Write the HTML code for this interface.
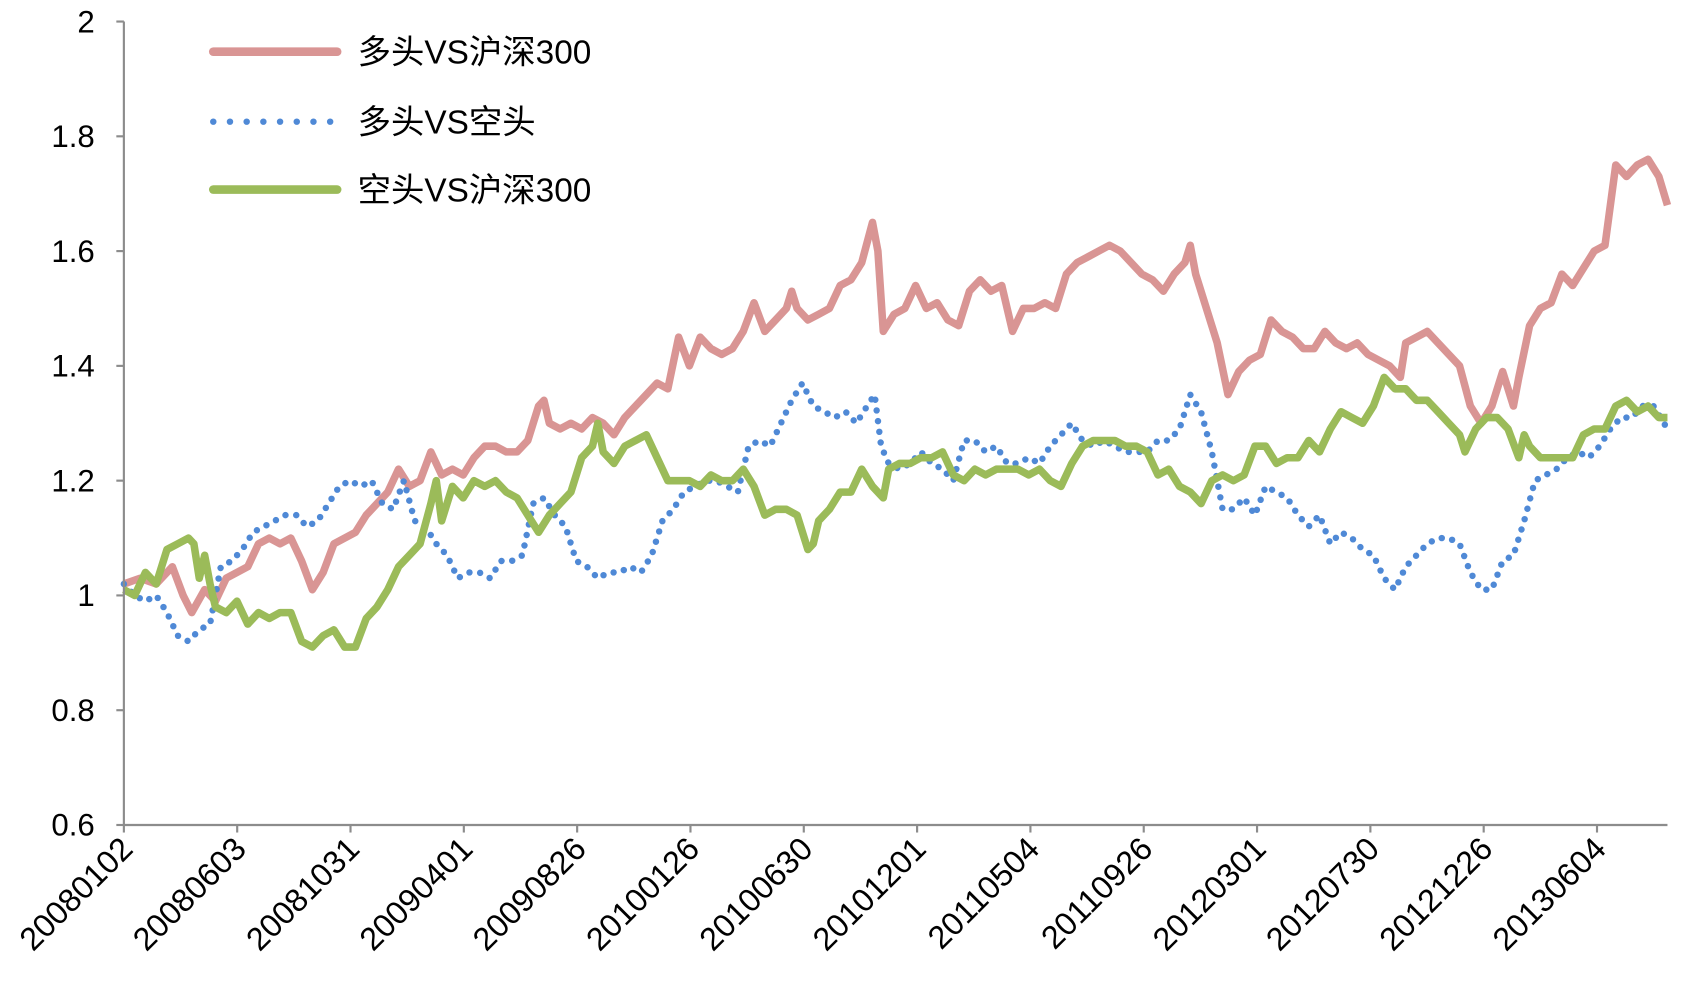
<!DOCTYPE html>
<html><head><meta charset="utf-8"><style>
html,body{margin:0;padding:0;background:#fff}
svg{display:block}
text{font-family:"Liberation Sans","Noto Sans CJK SC",sans-serif;fill:#000}
</style></head><body>
<svg id="chart" width="1689" height="993" viewBox="0 0 1568 922" preserveAspectRatio="none" xmlns="http://www.w3.org/2000/svg">
<g id="series"></g>
<g id="axes"></g>
<g id="legend"></g>
</svg>
<script>
const yTicks = [0.6, 0.8, 1, 1.2, 1.4, 1.6, 1.8, 2];
const yTickLabels = ["0.6","0.8","1","1.2","1.4","1.6","1.8","2"];
const xTickLabels = ["20080102","20080603","20081031","20090401","20090826","20100126","20100630","20101201","20110504","20110926","20120301","20120730","20121226","20130604"];
const redT = [0,15,30,45,55,63,75,85,95,105,115,125,135,145,155,165,175,185,195,205,215,225,235,245,255,265,275,285,295,305,315,325,335,345,355,365,375,385,390,395,405,415,425,435,445,455,465,475,485,495,505,515,525,535,545,555,565,575,585,595,605,615,620,625,635,645,655,665,675,685,695,700,705,715,725,735,745,755,765,775,785,795,805,815,825,835,845,855,865,875,885,895,905,915,925,935,945,955,965,975,985,990,995,1005,1015,1025,1035,1045,1055,1065,1075,1085,1095,1105,1115,1125,1135,1145,1155,1165,1175,1185,1190,1200,1210,1220,1230,1240,1250,1260,1270,1280,1290,1295,1305,1315,1325,1335,1345,1355,1365,1375,1385,1395,1405,1415,1425,1433];
const redV = [1.02,1.03,1.02,1.05,1.0,0.97,1.01,0.99,1.03,1.04,1.05,1.09,1.10,1.09,1.10,1.06,1.01,1.04,1.09,1.10,1.11,1.14,1.16,1.18,1.22,1.19,1.20,1.25,1.21,1.22,1.21,1.24,1.26,1.26,1.25,1.25,1.27,1.33,1.34,1.30,1.29,1.30,1.29,1.31,1.30,1.28,1.31,1.33,1.35,1.37,1.36,1.45,1.40,1.45,1.43,1.42,1.43,1.46,1.51,1.46,1.48,1.50,1.53,1.50,1.48,1.49,1.50,1.54,1.55,1.58,1.65,1.60,1.46,1.49,1.50,1.54,1.50,1.51,1.48,1.47,1.53,1.55,1.53,1.54,1.46,1.50,1.50,1.51,1.50,1.56,1.58,1.59,1.60,1.61,1.60,1.58,1.56,1.55,1.53,1.56,1.58,1.61,1.56,1.50,1.44,1.35,1.39,1.41,1.42,1.48,1.46,1.45,1.43,1.43,1.46,1.44,1.43,1.44,1.42,1.41,1.40,1.38,1.44,1.45,1.46,1.44,1.42,1.40,1.33,1.30,1.33,1.39,1.33,1.38,1.47,1.50,1.51,1.56,1.54,1.57,1.60,1.61,1.75,1.73,1.75,1.76,1.73,1.68];
const greenT = [0,10,20,30,40,50,60,65,70,75,80,85,95,105,115,125,135,145,155,165,175,185,195,205,215,225,235,245,255,265,275,285,290,295,305,315,325,335,345,355,365,375,385,395,405,415,425,435,440,445,455,465,475,485,495,505,515,525,535,545,555,565,575,585,595,605,615,625,635,640,645,655,665,675,685,695,705,710,720,730,740,750,760,770,780,790,800,810,820,830,840,850,860,870,880,890,900,910,920,930,940,950,960,970,980,990,1000,1010,1020,1030,1040,1050,1060,1070,1080,1090,1100,1110,1120,1130,1140,1150,1160,1170,1180,1190,1200,1210,1220,1230,1240,1245,1255,1265,1275,1285,1295,1300,1305,1315,1325,1335,1345,1355,1365,1375,1385,1395,1405,1415,1425,1433];
const greenV = [1.01,1.00,1.04,1.02,1.08,1.09,1.10,1.09,1.03,1.07,1.02,0.98,0.97,0.99,0.95,0.97,0.96,0.97,0.97,0.92,0.91,0.93,0.94,0.91,0.91,0.96,0.98,1.01,1.05,1.07,1.09,1.16,1.20,1.13,1.19,1.17,1.20,1.19,1.20,1.18,1.17,1.14,1.11,1.14,1.16,1.18,1.24,1.26,1.30,1.25,1.23,1.26,1.27,1.28,1.24,1.20,1.20,1.20,1.19,1.21,1.20,1.20,1.22,1.19,1.14,1.15,1.15,1.14,1.08,1.09,1.13,1.15,1.18,1.18,1.22,1.19,1.17,1.22,1.23,1.23,1.24,1.24,1.25,1.21,1.20,1.22,1.21,1.22,1.22,1.22,1.21,1.22,1.20,1.19,1.23,1.26,1.27,1.27,1.27,1.26,1.26,1.25,1.21,1.22,1.19,1.18,1.16,1.20,1.21,1.20,1.21,1.26,1.26,1.23,1.24,1.24,1.27,1.25,1.29,1.32,1.31,1.30,1.33,1.38,1.36,1.36,1.34,1.34,1.32,1.30,1.28,1.25,1.29,1.31,1.31,1.29,1.24,1.28,1.26,1.24,1.24,1.24,1.24,1.28,1.29,1.29,1.33,1.34,1.32,1.33,1.31,1.31];
const blueT = [0,10,20,30,40,50,60,70,80,90,100,110,120,130,140,150,160,170,180,190,200,210,220,230,240,250,260,270,280,290,300,310,320,330,340,350,360,370,380,390,400,410,420,430,440,450,460,470,480,490,500,510,520,530,540,550,560,570,580,590,600,610,620,630,640,650,660,670,680,690,697,703,710,720,730,740,750,760,770,780,790,800,810,820,830,840,850,860,870,880,890,900,910,920,930,940,950,960,970,980,990,1000,1010,1020,1030,1040,1050,1060,1070,1080,1090,1100,1110,1120,1130,1140,1150,1160,1170,1180,1190,1200,1210,1220,1230,1240,1250,1260,1270,1280,1290,1300,1310,1320,1330,1340,1350,1360,1370,1380,1390,1400,1410,1420,1433];
const blueV = [1.02,1.00,0.99,1.00,0.97,0.93,0.92,0.94,0.95,1.05,1.06,1.08,1.11,1.12,1.13,1.14,1.14,1.12,1.13,1.16,1.19,1.20,1.19,1.20,1.16,1.15,1.20,1.13,1.12,1.09,1.07,1.03,1.04,1.04,1.03,1.06,1.06,1.07,1.16,1.17,1.14,1.12,1.06,1.05,1.03,1.04,1.04,1.05,1.04,1.07,1.13,1.15,1.18,1.19,1.20,1.20,1.19,1.18,1.26,1.27,1.26,1.30,1.34,1.37,1.33,1.32,1.31,1.32,1.30,1.33,1.35,1.26,1.23,1.22,1.23,1.25,1.23,1.22,1.20,1.27,1.27,1.25,1.26,1.23,1.23,1.24,1.23,1.26,1.28,1.30,1.27,1.26,1.27,1.26,1.25,1.25,1.25,1.27,1.27,1.29,1.35,1.32,1.25,1.15,1.15,1.17,1.14,1.19,1.18,1.17,1.14,1.12,1.14,1.09,1.11,1.10,1.08,1.07,1.03,1.01,1.05,1.07,1.09,1.10,1.10,1.09,1.04,1.01,1.01,1.06,1.07,1.13,1.20,1.21,1.22,1.24,1.25,1.24,1.26,1.29,1.31,1.31,1.33,1.33,1.29];

const NS = "http://www.w3.org/2000/svg";
const X0 = 115, X1 = 1548, Y0 = 766, Y1 = 20, TMAX = 1433;
function xs(t){ return X0 + (t / TMAX) * (X1 - X0); }
function ys(v){ return Y0 - (v - 0.6) / 1.4 * (Y0 - Y1); }
function mk(tag, attrs, parent){ const e = document.createElementNS(NS, tag); for (const k in attrs) e.setAttribute(k, attrs[k]); parent.appendChild(e); return e; }

const axes = document.getElementById('axes');
const series = document.getElementById('series');
const legend = document.getElementById('legend');

const yAxis = mk('line', {x1:X0, y1:Y1, x2:X0, y2:Y0, stroke:'#8c8c8c', 'stroke-width':2}, axes);


const xAxis = mk('line', {x1:X0, y1:Y0, x2:X1, y2:Y0, stroke:'#8c8c8c', 'stroke-width':2}, axes);



yTicks.forEach((v, i) => {
  const y = ys(v);
  mk('line', {x1:X0-7, y1:y, x2:X0, y2:y, stroke:'#8c8c8c', 'stroke-width':2}, axes);
  const t = mk('text', {x:88, y:y+10, 'text-anchor':'end', 'font-size':29}, axes);
  t.textContent = yTickLabels[i];
  
  
});
xTickLabels.forEach((lab, i) => {
  const x = X0 + i * 105.2;
  mk('line', {x1:x, y1:Y0, x2:x, y2:Y0+7, stroke:'#8c8c8c', 'stroke-width':2}, axes);
  const t = mk('text', {x:x+10, y:Y0+24, 'text-anchor':'end', 'font-size':30, transform:`rotate(-45 ${x+10} ${Y0+24})`}, axes);
  t.textContent = lab;
  
  
});

function pathD(T, V){ return T.map((t, i) => (i ? 'L' : 'M') + xs(t).toFixed(1) + ' ' + ys(V[i]).toFixed(1)).join(' '); }

const pRed = mk('path', {d:pathD(redT, redV), fill:'none', stroke:'#D99594', 'stroke-width':7, 'stroke-linejoin':'round'}, series);


const pBlue = mk('path', {d:pathD(blueT, blueV), fill:'none', stroke:'#4F89D6', 'stroke-width':6, 'stroke-linecap':'round', 'stroke-dasharray':'0 10'}, series);


const pGreen = mk('path', {d:pathD(greenT, greenV), fill:'none', stroke:'#9BBB59', 'stroke-width':7, 'stroke-linejoin':'round'}, series);



const legendItems = [
  {label:'多头VS沪深300', color:'#D99594', dash:null, y:48},
  {label:'多头VS空头', color:'#4F89D6', dash:'0 15.5', y:113},
  {label:'空头VS沪深300', color:'#9BBB59', dash:null, y:176}
];
legendItems.forEach(it => {
  const l = mk('line', {x1:198, y1:it.y, x2:313, y2:it.y, stroke:it.color, 'stroke-width': it.dash ? 6 : 8, 'stroke-linecap':'round'}, legend);
  if (it.dash) l.setAttribute('stroke-dasharray', it.dash);
  
  
  const t = mk('text', {x:332, y:it.y+11, 'font-size':31}, legend);
  t.textContent = it.label;
  
  
});
</script>
</body></html>
